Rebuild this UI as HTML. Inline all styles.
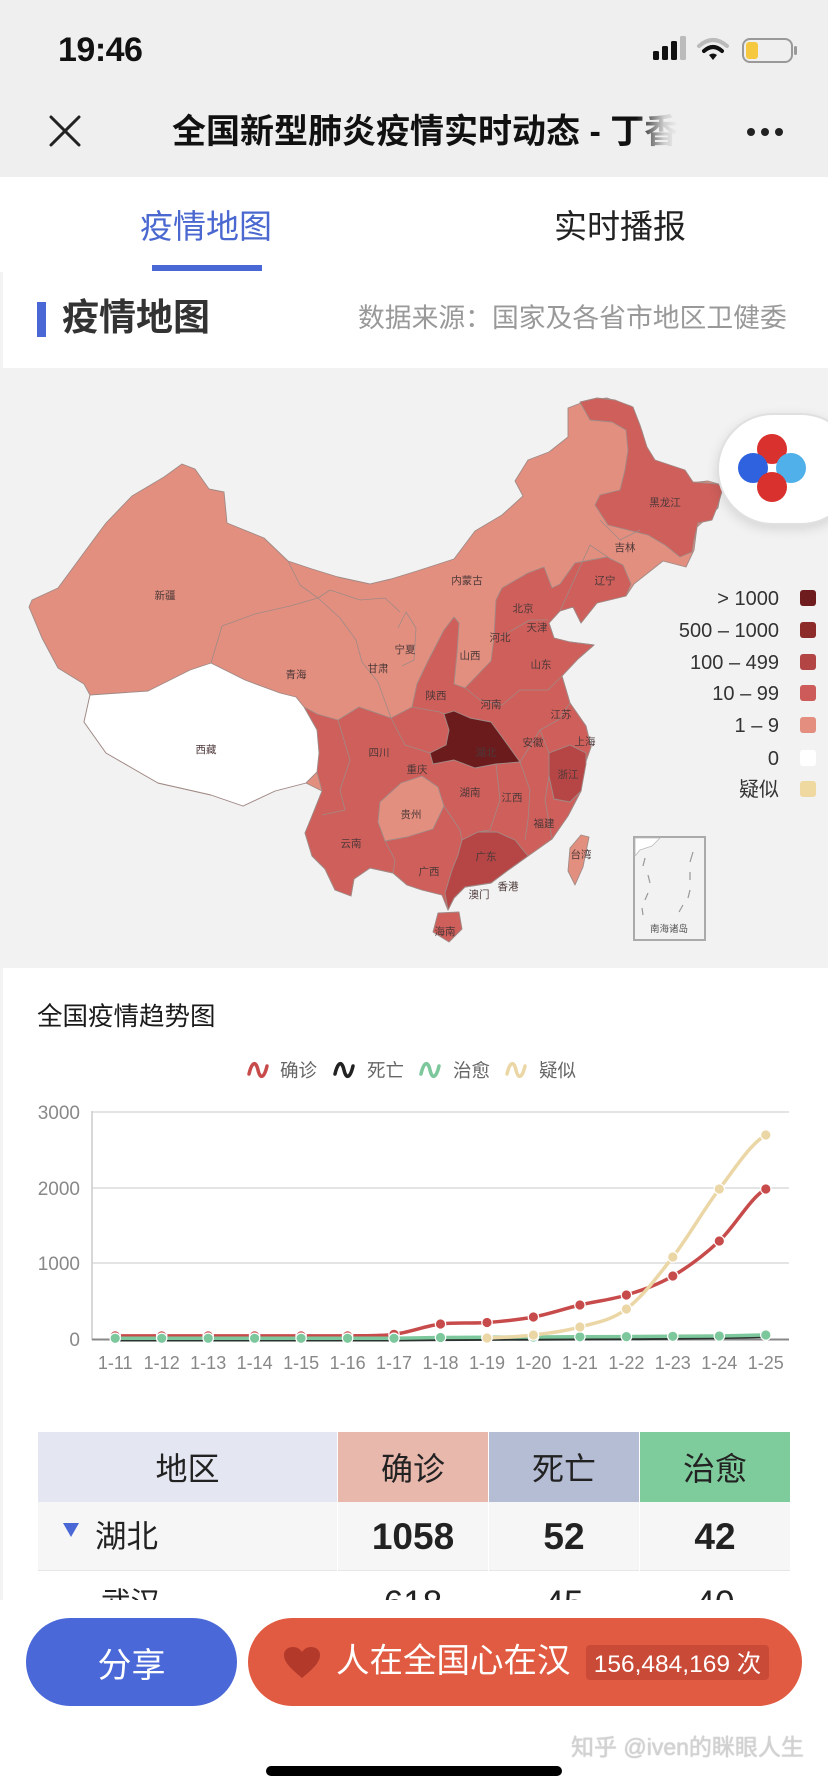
<!DOCTYPE html>
<html><head><meta charset="utf-8">
<style>
*{box-sizing:border-box}
body{margin:0;padding:0;background:#fff}
#p{position:relative;width:828px;height:1792px;overflow:hidden;background:#fff;font-family:"Liberation Sans","Noto Sans CJK SC",sans-serif;color:#222}
.a{position:absolute}
.c{position:absolute;display:flex;align-items:center;justify-content:center;white-space:nowrap}
</style></head><body>
<div id="p">
<!-- backgrounds -->
<div class="a" style="left:0;top:0;width:828px;height:177px;background:#efefef"></div>
<div class="a" style="left:0;top:368px;width:828px;height:600px;background:#f2f2f2"></div>
<div class="a" style="left:0;top:272px;width:3px;height:96px;background:#f3f3f3"></div>
<div class="a" style="left:0;top:968px;width:3px;height:632px;background:#f3f3f3"></div>

<!-- status bar -->
<div class="a" style="left:58px;top:28px;height:44px;line-height:44px;font-size:34px;font-weight:bold;letter-spacing:-0.5px;color:#111">19:46</div>
<svg class="a" style="left:0;top:0" width="828" height="177">
  <g fill="#111">
    <rect x="653" y="51" width="6" height="9" rx="1.5"/>
    <rect x="662" y="46" width="6" height="14" rx="1.5"/>
    <rect x="671" y="41" width="6" height="19" rx="1.5"/>
  </g>
  <rect x="680" y="36" width="6" height="24" rx="1.5" fill="#bbb"/>
  <path d="M699,46 Q713,34 727,46" stroke="#bbb" stroke-width="4" fill="none" stroke-linecap="round"/>
  <path d="M704,51 Q713,43 722,51" stroke="#111" stroke-width="4" fill="none" stroke-linecap="round"/>
  <path d="M709,55 L713,60 L717,55 Q713,52 709,55 Z" fill="#111"/>
  <rect x="743" y="39" width="49" height="23" rx="7" fill="none" stroke="#999" stroke-width="2"/>
  <rect x="746" y="42" width="12" height="17" rx="3" fill="#f6c840"/>
  <rect x="794" y="46" width="3" height="9" rx="1.5" fill="#999"/>
  <!-- close X -->
  <path d="M51,117 L79,145 M79,117 L51,145" stroke="#222" stroke-width="3" stroke-linecap="round"/>
  <circle cx="751" cy="132" r="4" fill="#222"/>
  <circle cx="765" cy="132" r="4" fill="#222"/>
  <circle cx="779" cy="132" r="4" fill="#222"/>
</svg>
<div class="a" style="left:172px;top:110px;height:44px;line-height:44px;font-size:34px;font-weight:bold;color:#111;white-space:nowrap;width:510px;overflow:hidden">全国新型肺炎疫情实时动态 - 丁香</div>
<div class="a" style="left:636px;top:105px;width:70px;height:55px;background:linear-gradient(to right,rgba(239,239,239,0),rgba(239,239,239,0.85) 40%,#efefef 60%)"></div>

<!-- tabs -->
<div class="c" style="left:130px;top:202px;width:152px;height:44px;font-size:33px;color:#4a68d0">疫情地图</div>
<div class="c" style="left:545px;top:202px;width:150px;height:44px;font-size:33px;color:#222">实时播报</div>
<div class="a" style="left:152px;top:265px;width:110px;height:6px;background:#4a67d6"></div>

<!-- section header -->
<div class="a" style="left:37px;top:302px;width:9px;height:35px;background:#4a67d6"></div>
<div class="a" style="left:62px;top:296px;height:44px;line-height:44px;font-size:37px;font-weight:bold;color:#333;white-space:nowrap">疫情地图</div>
<div class="a" style="left:358px;top:299px;height:38px;line-height:38px;font-size:26.8px;color:#999;white-space:nowrap">数据来源：国家及各省市地区卫健委</div>

<!-- map + chart svg -->
<svg class="a" style="left:0;top:0" width="828" height="1792" font-family="Liberation Sans, Noto Sans CJK SC, sans-serif">
  <g stroke="#a08a86" stroke-width="0.9" stroke-linejoin="round">
    <polygon fill="#e28f7f" points="29,607 32,600 58,588 100,531 106,523 132,496 164,477 182,464 195,469 209,489 224,492 227,523 264,538 288,561 312,569 338,577 370,584 391,579 417,571 454,559 475,531 502,515 523,496 515,481 528,460 549,452 568,437 568,408 586,401 607,398 631,406 642,431 652,466 671,485 708,481 722,485 718,508 697,527 694,550 686,567 663,561 634,584 626,596 597,603 581,623 573,607 560,611 549,623 554,638 570,642 594,645 578,659 562,676 570,703 586,726 591,747 585,764 581,791 568,816 552,839 528,856 507,871 491,883 465,887 454,898 448,910 442,895 422,890 407,885 393,873 370,868 354,879 351,896 335,890 325,869 312,856 305,833 312,816 322,791 306,783 275,791 243,806 211,795 158,783 106,753 84,722 90,695 84,684 58,668 42,638"/>
    <polygon fill="#cf5f5b" points="304,707 317,714 338,720 359,707 391,718 412,707 417,684 428,661 444,630 454,617 459,623 457,653 454,684 465,688 491,661 494,638 496,600 502,588 528,573 544,567 552,588 560,584 575,563 607,557 623,565 631,584 626,596 597,603 581,623 573,607 560,611 549,623 554,638 570,642 594,645 578,659 562,676 570,703 586,726 591,747 585,764 581,791 568,816 552,839 528,856 507,871 491,883 465,887 454,898 448,910 442,895 422,890 407,885 393,873 370,868 354,879 351,896 335,890 325,869 312,856 305,833 312,816 322,791 317,772 319,753 317,730"/>
    <polygon fill="#cf5f5b" points="580,402 597,398 615,400 633,407 640,425 647,447 655,460 685,470 693,482 718,484 723,488 718,505 712,520 698,523 694,540 692,552 680,557 665,545 648,535 628,530 608,525 595,505 600,495 620,490 625,470 628,450 626,430 612,422 590,420"/>
    <polygon fill="#ffffff" points="90,695 148,691 190,670 211,663 245,680 280,693 296,697 304,707 317,730 319,753 317,772 306,783 275,791 243,806 211,795 158,783 106,753 84,722"/>
    <polygon fill="#e28f7f" points="380,802 401,783 422,776 438,787 444,806 433,829 407,837 385,841 378,822"/>
    <polygon fill="#6c1b1d" points="444,714 454,711 470,718 491,722 502,737 520,762 496,764 475,768 454,760 433,764 430,753 446,745 449,730"/>
    <polygon fill="#b64646" points="549,753 570,745 586,753 586,764 581,791 570,802 554,799 549,776"/>
    <polygon fill="#b64646" points="462,840 478,832 497,832 515,840 528,856 507,871 491,883 465,887 454,898 448,910 445,893 452,870 458,855"/>
    <polygon fill="#e28f7f" points="581,835 589,837 583,867 575,885 568,871 570,848"/>
    <polygon fill="#cf5f5b" points="438,913 459,912 462,929 449,942 433,932"/>
  </g>
  <g stroke="#a08a86" stroke-width="0.8" fill="none" stroke-linejoin="round">
    <polyline points="211,663 222,626 255,614 290,606 318,598"/>
    <polyline points="288,561 300,585 318,598 340,618 356,640 362,662 378,682 391,718"/>
    <polyline points="318,598 330,590 360,600 385,598 400,612"/>
    <polyline points="398,628 406,612 416,628 414,660 402,666"/>
    <polyline points="560,611 590,545 612,560"/>
    <polyline points="600,520 620,540 640,530"/>
    <polyline points="338,720 350,760 340,790 345,810 322,815"/>
    <polyline points="391,718 405,745 430,753"/>
    <polyline points="412,707 440,712 444,714"/>
    <polyline points="465,688 480,700 502,705 520,690 548,690 562,676"/>
    <polyline points="520,762 540,730 558,720 570,703"/>
    <polyline points="540,730 549,753"/>
    <polyline points="496,764 500,800 490,830 478,832"/>
    <polyline points="520,762 530,790 528,820 525,840"/>
    <polyline points="549,776 545,800 552,839"/>
    <polyline points="444,806 460,830 462,840"/>
    <polyline points="385,841 395,860 393,873"/>
    <polyline points="500,637 530,620 548,620"/>
  </g>
  <g font-size="10.5" fill="#4d3838" text-anchor="middle">
    <text x="165" y="599">新疆</text><text x="206" y="753">西藏</text><text x="296" y="678">青海</text>
    <text x="378" y="672">甘肃</text><text x="405" y="653">宁夏</text><text x="467" y="584">内蒙古</text>
    <text x="665" y="506">黑龙江</text><text x="625" y="551">吉林</text><text x="605" y="584">辽宁</text>
    <text x="523" y="612">北京</text><text x="537" y="631">天津</text><text x="500" y="641">河北</text>
    <text x="470" y="659">山西</text><text x="541" y="668">山东</text><text x="436" y="699">陕西</text>
    <text x="491" y="708">河南</text><text x="561" y="718">江苏</text><text x="533" y="746">安徽</text>
    <text x="585" y="745">上海</text><text x="486" y="756">湖北</text><text x="379" y="756">四川</text>
    <text x="417" y="773">重庆</text><text x="568" y="778">浙江</text><text x="470" y="796">湖南</text>
    <text x="512" y="801">江西</text><text x="411" y="818">贵州</text><text x="544" y="827">福建</text>
    <text x="351" y="847">云南</text><text x="581" y="858">台湾</text><text x="486" y="860">广东</text>
    <text x="429" y="875">广西</text><text x="508" y="890">香港</text><text x="479" y="898">澳门</text>
    <text x="445" y="935">海南</text>
  </g>
  <!-- south sea inset -->
  <rect x="634" y="837" width="71" height="103" fill="none" stroke="#aaa" stroke-width="2"/>
  <path d="M635,838 L660,838 L652,846 L640,850 L635,856 Z" fill="#fff" stroke="#bbb" stroke-width="0.8"/>
  <g stroke="#999" stroke-width="1.2">
    <line x1="645" y1="858" x2="643" y2="866"/><line x1="693" y1="852" x2="690" y2="862"/>
    <line x1="690" y1="872" x2="690" y2="880"/><line x1="648" y1="875" x2="650" y2="883"/>
    <line x1="648" y1="893" x2="645" y2="900"/><line x1="690" y1="890" x2="688" y2="898"/>
    <line x1="642" y1="908" x2="643" y2="915"/><line x1="683" y1="905" x2="679" y2="912"/>
  </g>
  <text x="669" y="932" font-size="9.5" fill="#555" text-anchor="middle">南海诸岛</text>
  <!-- legend -->
  <g font-size="20" fill="#333" text-anchor="end">
    <text x="779" y="605">&gt; 1000</text>
    <text x="779" y="637">500 – 1000</text>
    <text x="779" y="669">100 – 499</text>
    <text x="779" y="700">10 – 99</text>
    <text x="779" y="732">1 – 9</text>
    <text x="779" y="765">0</text>
    <text x="779" y="796">疑似</text>
  </g>
  <rect x="800" y="590" width="16" height="16" rx="3" fill="#6e1c1e"/>
  <rect x="800" y="622" width="16" height="16" rx="3" fill="#8d2b2a"/>
  <rect x="800" y="654" width="16" height="16" rx="3" fill="#b44545"/>
  <rect x="800" y="685" width="16" height="16" rx="3" fill="#cc5b5a"/>
  <rect x="800" y="717" width="16" height="16" rx="3" fill="#e38e7f"/>
  <rect x="800" y="750" width="16" height="16" rx="3" fill="#ffffff"/>
  <rect x="800" y="781" width="16" height="16" rx="3" fill="#f0d9a0"/>

  <!-- ===== chart ===== -->
  <g font-size="18.5" fill="#666">
    <path d="M249,1074 C252,1061 256,1061 258,1070 C260,1079 264,1079 267,1066" stroke="#c84b4b" stroke-width="3.5" fill="none" stroke-linecap="round"/>
    <text x="280" y="1077">确诊</text>
    <path d="M335,1074 C338,1061 342,1061 344,1070 C346,1079 350,1079 353,1066" stroke="#222" stroke-width="3.5" fill="none" stroke-linecap="round"/>
    <text x="367" y="1077">死亡</text>
    <path d="M421,1074 C424,1061 428,1061 430,1070 C432,1079 436,1079 439,1066" stroke="#7cc79c" stroke-width="3.5" fill="none" stroke-linecap="round"/>
    <text x="453" y="1077">治愈</text>
    <path d="M507,1074 C510,1061 514,1061 516,1070 C518,1079 522,1079 525,1066" stroke="#ebd6a6" stroke-width="3.5" fill="none" stroke-linecap="round"/>
    <text x="539" y="1077">疑似</text>
  </g>
  <g stroke="#dcdcdc" stroke-width="1.5">
    <line x1="92" y1="1112" x2="789" y2="1112"/>
    <line x1="92" y1="1188" x2="789" y2="1188"/>
    <line x1="92" y1="1263" x2="789" y2="1263"/>
  </g>
  <line x1="92" y1="1111" x2="92" y2="1340" stroke="#ccc" stroke-width="1.5"/>
  <line x1="92" y1="1339.5" x2="789" y2="1339.5" stroke="#888" stroke-width="2"/>
  <g font-size="19" fill="#888" text-anchor="end">
    <text x="80" y="1119">3000</text>
    <text x="80" y="1195">2000</text>
    <text x="80" y="1270">1000</text>
    <text x="80" y="1346">0</text>
  </g>
  <g font-size="18" fill="#888" text-anchor="middle">
    <text x="115.2" y="1369">1-11</text><text x="161.7" y="1369">1-12</text><text x="208.2" y="1369">1-13</text>
    <text x="254.6" y="1369">1-14</text><text x="301.1" y="1369">1-15</text><text x="347.6" y="1369">1-16</text>
    <text x="394.0" y="1369">1-17</text><text x="440.5" y="1369">1-18</text><text x="487.0" y="1369">1-19</text>
    <text x="533.4" y="1369">1-20</text><text x="579.9" y="1369">1-21</text><text x="626.4" y="1369">1-22</text>
    <text x="672.8" y="1369">1-23</text><text x="719.3" y="1369">1-24</text><text x="765.8" y="1369">1-25</text>
  </g>
  <!-- red -->
  <path d="M115.2,1335.9 L347.6,1335.9 C363.1,1335.6 378.5,1336.3 394.0,1334.3 C409.5,1332.3 425.0,1326.0 440.5,1324.0 C456.0,1322.0 471.5,1323.7 487.0,1322.5 C502.5,1321.3 517.9,1319.9 533.4,1317.0 C548.9,1314.1 564.4,1308.7 579.9,1305.0 C595.4,1301.3 610.9,1299.8 626.4,1295.0 C641.9,1290.2 657.3,1285.0 672.8,1276.0 C688.3,1267.0 703.8,1255.5 719.3,1241.0 C734.8,1226.5 750.3,1197.7 765.8,1189.0" stroke="#c84b4b" stroke-width="3.5" fill="none"/>
  <g fill="#c84b4b" stroke="#fff" stroke-width="1.2">
    <circle cx="115.2" cy="1335.9" r="5.2"/><circle cx="161.7" cy="1335.9" r="5.2"/><circle cx="208.2" cy="1335.9" r="5.2"/>
    <circle cx="254.6" cy="1335.9" r="5.2"/><circle cx="301.1" cy="1335.9" r="5.2"/><circle cx="347.6" cy="1335.9" r="5.2"/>
    <circle cx="394.0" cy="1334.3" r="5.2"/><circle cx="440.5" cy="1324.0" r="5.2"/><circle cx="487.0" cy="1322.5" r="5.2"/>
    <circle cx="533.4" cy="1317.0" r="5.2"/><circle cx="579.9" cy="1305.0" r="5.2"/><circle cx="626.4" cy="1295.0" r="5.2"/>
    <circle cx="672.8" cy="1276.0" r="5.2"/><circle cx="719.3" cy="1241.0" r="5.2"/><circle cx="765.8" cy="1189.0" r="5.2"/>
  </g>
  <!-- black -->
  <polyline points="115.2,1340 394,1340 440.5,1339.6 487,1339.4 533.4,1339.2 579.9,1339 626.4,1338.8 672.8,1338.2 719.3,1337.6 765.8,1336.5" stroke="#2a3330" stroke-width="3" fill="none"/>
  <!-- green -->
  <polyline points="115.2,1338.3 394,1338.3 440.5,1337.5 487,1337.2 533.4,1337 579.9,1336.8 626.4,1336.6 672.8,1336.3 719.3,1336 765.8,1335" stroke="#7cc79c" stroke-width="3.5" fill="none"/>
  <g fill="#7cc79c" stroke="#fff" stroke-width="1.2">
    <circle cx="115.2" cy="1338.3" r="5.2"/><circle cx="161.7" cy="1338.3" r="5.2"/><circle cx="208.2" cy="1338.3" r="5.2"/>
    <circle cx="254.6" cy="1338.3" r="5.2"/><circle cx="301.1" cy="1338.3" r="5.2"/><circle cx="347.6" cy="1338.3" r="5.2"/>
    <circle cx="394.0" cy="1338.3" r="5.2"/><circle cx="440.5" cy="1337.5" r="5.2"/><circle cx="487.0" cy="1337.2" r="5.2"/>
    <circle cx="533.4" cy="1337" r="5.2"/><circle cx="579.9" cy="1336.8" r="5.2"/><circle cx="626.4" cy="1336.6" r="5.2"/>
    <circle cx="672.8" cy="1336.3" r="5.2"/><circle cx="719.3" cy="1336" r="5.2"/><circle cx="765.8" cy="1335" r="5.2"/>
  </g>
  <!-- yellow -->
  <path d="M487.0,1338 C502.5,1337.5 517.9,1336.8 533.4,1335 C548.9,1333.2 564.4,1331.3 579.9,1327 C595.4,1322.7 610.9,1320.7 626.4,1309 C641.9,1297.3 657.3,1277.0 672.8,1257 C688.3,1237.0 703.8,1209.3 719.3,1189 C734.8,1168.7 750.3,1144.0 765.8,1135" stroke="#ebd6a6" stroke-width="3.5" fill="none"/>
  <g fill="#ebd6a6" stroke="#fff" stroke-width="1.2">
    <circle cx="487.0" cy="1338" r="5.2"/><circle cx="533.4" cy="1335" r="5.2"/><circle cx="579.9" cy="1327" r="5.2"/>
    <circle cx="626.4" cy="1309" r="5.2"/><circle cx="672.8" cy="1257" r="5.2"/><circle cx="719.3" cy="1189" r="5.2"/>
    <circle cx="765.8" cy="1135" r="5.2"/>
  </g>
</svg>

<!-- floating bubble -->
<div class="a" style="left:717px;top:413px;width:140px;height:112px;border-radius:56px;background:#fff;border:2px solid #e0e0e0;box-shadow:0 4px 12px rgba(0,0,0,0.12)"></div>
<div class="a" style="left:757px;top:434px;width:30px;height:30px;border-radius:50%;background:#d9312e"></div>
<div class="a" style="left:738px;top:453px;width:30px;height:30px;border-radius:50%;background:#2f62de"></div>
<div class="a" style="left:776px;top:453px;width:30px;height:30px;border-radius:50%;background:#4fb0ea"></div>
<div class="a" style="left:757px;top:472px;width:30px;height:30px;border-radius:50%;background:#d9312e"></div>

<!-- chart title -->
<div class="a" style="left:37px;top:999px;height:36px;line-height:36px;font-size:25.5px;color:#1a1a1a;white-space:nowrap">全国疫情趋势图</div>

<!-- table -->
<div class="c" style="left:38px;top:1432px;width:299px;height:70px;background:#e4e6f1;font-size:32px;color:#222">地区</div>
<div class="c" style="left:338px;top:1432px;width:150px;height:70px;background:#e8b8ad;font-size:32px;color:#222">确诊</div>
<div class="c" style="left:489px;top:1432px;width:150px;height:70px;background:#b4bdd4;font-size:32px;color:#222">死亡</div>
<div class="c" style="left:640px;top:1432px;width:150px;height:70px;background:#7ecb9c;font-size:32px;color:#222">治愈</div>
<div class="a" style="left:38px;top:1502px;width:752px;height:69px;background:#f6f6f6;border-bottom:1.5px solid #e6e6e6"></div>
<div class="a" style="left:337px;top:1502px;width:1px;height:69px;background:#fff"></div>
<div class="a" style="left:488px;top:1502px;width:1px;height:69px;background:#fff"></div>
<div class="a" style="left:639px;top:1502px;width:1px;height:69px;background:#fff"></div>
<svg class="a" style="left:60px;top:1520px" width="22" height="20"><polygon points="3,3 19,3 11,17" fill="#4a67d6"/></svg>
<div class="a" style="left:95px;top:1514px;height:44px;line-height:44px;font-size:31.5px;color:#222;white-space:nowrap">湖北</div>
<div class="c" style="left:338px;top:1502px;width:150px;height:69px;font-size:37px;font-weight:bold;color:#222">1058</div>
<div class="c" style="left:489px;top:1502px;width:150px;height:69px;font-size:37px;font-weight:bold;color:#222">52</div>
<div class="c" style="left:640px;top:1502px;width:150px;height:69px;font-size:37px;font-weight:bold;color:#222">42</div>
<div class="a" style="left:101px;top:1582px;height:44px;line-height:44px;font-size:29.5px;color:#222;white-space:nowrap">武汉</div>
<div class="c" style="left:338px;top:1582px;width:150px;height:44px;font-size:35px;color:#222">618</div>
<div class="c" style="left:489px;top:1582px;width:150px;height:44px;font-size:35px;color:#222">45</div>
<div class="c" style="left:640px;top:1582px;width:150px;height:44px;font-size:35px;color:#222">40</div>

<!-- bottom bar -->
<div class="a" style="left:0;top:1600px;width:828px;height:192px;background:#fff"></div>
<div class="c" style="left:26px;top:1618px;width:211px;height:88px;border-radius:44px;background:#4a68d8;color:#fff;font-size:34px">分享</div>
<div class="a" style="left:248px;top:1618px;width:554px;height:88px;border-radius:44px;background:#e05b41"></div>
<svg class="a" style="left:0;top:0" width="828" height="1792"><path d="M302,1678 C290,1668 284,1662 284,1655 C284,1650 288,1647 293,1647 C297,1647 300,1649 302,1652 C304,1649 307,1647 311,1647 C316,1647 320,1650 320,1655 C320,1662 314,1668 302,1678 Z" fill="#b3392b"/></svg>
<div class="a" style="left:336px;top:1640px;height:44px;line-height:44px;font-size:33.5px;color:#fff;white-space:nowrap">人在全国心在汉</div>
<div class="c" style="left:586px;top:1645px;width:183px;height:35px;border-radius:4px;background:#ca4a38;color:#fff;font-size:24.5px">156,484,169 次</div>
<div class="a" style="left:571px;top:1730px;height:34px;line-height:34px;font-size:23px;color:#d2d2d2;white-space:nowrap;text-shadow:0 0 1px #aaa">知乎 @iven的眯眼人生</div>
<div class="a" style="left:266px;top:1766px;width:296px;height:10px;border-radius:5px;background:#000"></div>
</div>
</body></html>
